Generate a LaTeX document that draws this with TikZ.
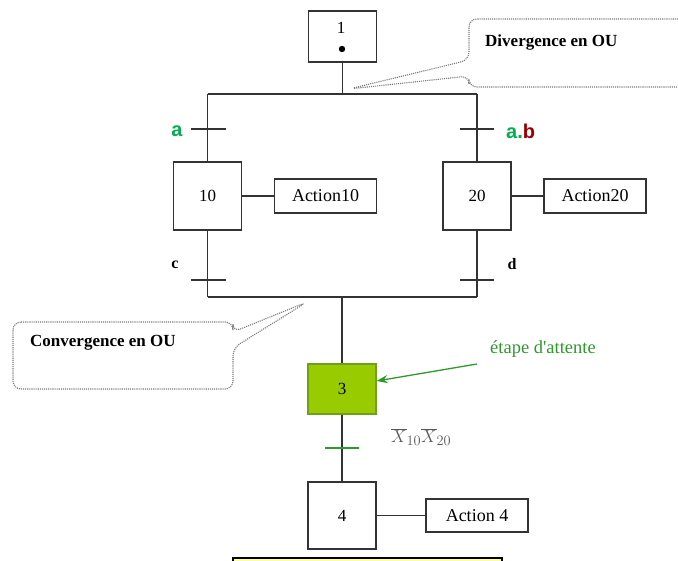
\documentclass[tikz,border=0pt]{standalone}
\usepackage{fontspec}
\setmainfont{Liberation Serif}
\newfontfamily\arialfont{Liberation Sans}
\usetikzlibrary{arrows.meta}
\definecolor{agreen}{HTML}{00B050}
\definecolor{bred}{HTML}{990000}
\definecolor{stepgreen}{HTML}{99CC00}
\definecolor{stepgreenborder}{HTML}{6FA01A}
\definecolor{txtgreen}{HTML}{2E9A2E}
\definecolor{notegray}{HTML}{7A7A7A}
\definecolor{lightyellow}{HTML}{FFFF99}
\tikzset{
  stepbox/.style={draw=black!80, line width=1.2pt, minimum width=68pt, inner sep=0pt, font=\fontsize{17}{17}\selectfont},
  actbox/.style={draw=black!80, line width=1.2pt, minimum width=102pt, minimum height=34pt, inner sep=0pt, font=\fontsize{18}{18}\selectfont},
  wire/.style={draw=black!80, line width=1.2pt},
  tick/.style={draw=black!80, line width=1.3pt},
  callout/.style={draw=notegray, densely dotted, line width=1.1pt, rounded corners=8pt},
  lbl/.style={inner sep=0pt, font=\fontsize{16}{16}\selectfont\bfseries},
}
\begin{document}
\begin{tikzpicture}[x=1pt,y=-1pt]
\clip (0,0) rectangle (678,561);
\fill[white] (0,0) rectangle (678,561);

% steps
\node[stepbox, minimum height=51pt] (s1) at (342.5,36.5) {};
\node[inner sep=0pt, font=\fontsize{17}{17}\selectfont] (n1) at (341,28) {1};
\fill[black] (342,49) circle (3.2pt);
\node[stepbox, minimum height=68pt] (s10) at (207.5,196) {10};
\node[stepbox, minimum height=68pt] (s20) at (477,196) {20};
\node[stepbox, minimum height=50pt, fill=stepgreen, draw=stepgreenborder] (s3) at (342,389) {3};
\node[stepbox, minimum height=67pt] (s4) at (342,515.5) {4};

% actions
\node[actbox] (a10) at (325.5,196) {Action10};
\node[actbox] (a20) at (595,196) {Action20};
\node[actbox, minimum height=33pt] (a4) at (477,515.5) {Action 4};

% coordinates
\coordinate (divL) at (207.5,94);
\coordinate (divR) at (477,94);
\coordinate (divM) at (342.5,94);
\coordinate (convL) at (207.5,297);
\coordinate (convR) at (477,297);
\coordinate (convM) at (342,297);
\coordinate (ta) at (207.5,129);
\coordinate (tab) at (477,129);
\coordinate (tc) at (207.5,280);
\coordinate (td) at (477,280);
\coordinate (t3) at (342,448);

% wires
\draw[wire] (s1.south) -- (divM);
\draw[wire] (divL) -- (divR);
\draw[wire] (divL) -- (s10.north);
\draw[wire] (divR) -- (s20.north);
\draw[wire] (s10.south) -- (convL);
\draw[wire] (s20.south) -- (convR);
\draw[wire] (convL) -- (convR);
\draw[wire] (convM) -- (s3.north);
\draw[wire] (s3.south) -- (s4.north);
\draw[wire] (s10.east) -- (a10.west);
\draw[wire] (s20.east) -- (a20.west);
\draw[wire] (s4.east) -- (a4.west);

% transitions
\draw[tick] ([xshift=-17pt]ta) -- ([xshift=18pt]ta);
\draw[tick] ([xshift=-17pt]tab) -- ([xshift=17pt]tab);
\draw[tick] ([xshift=-17pt]tc) -- ([xshift=18pt]tc);
\draw[tick] ([xshift=-17pt]td) -- ([xshift=17pt]td);
\draw[tick, draw=txtgreen] ([xshift=-17pt]t3) -- ([xshift=17pt]t3);

% transition labels
\node[inner sep=0pt, anchor=center, font=\arialfont\fontsize{20}{20}\selectfont\bfseries, text=agreen] (la) at (177,131) {a};
\node[inner sep=0pt, anchor=west, font=\arialfont\fontsize{20}{20}\selectfont\bfseries] (lab) at (506,131) {\textcolor{agreen}{a.}\textcolor{bred}{b}};
\node[lbl] (lc) at (175,265) {c};
\node[lbl] (ld) at (512,264) {d};
\node[inner sep=0pt, anchor=west, text=black!65, font=\fontsize{19}{19}\selectfont] (lx) at (391,437) {$\overline{X}_{10}\overline{X}_{20}$};

% waiting-step note
\node[inner sep=0pt, anchor=west, text=txtgreen, font=\fontsize{18.5}{18.5}\selectfont] (wait) at (490,349) {étape d\textquotesingle attente};
\coordinate (arrStart) at (477,364);
\draw[draw=txtgreen, line width=1.3pt, -{Stealth[length=11pt,width=8pt]}] (arrStart) -- (s3.east |- 0,381);

% callouts
\draw[callout] (720,19) -- (469,19) -- (469,60) -- (349,89) -- (469,76) -- (469,87) -- (720,87);
\node[inner sep=0pt, anchor=west, font=\fontsize{17}{17}\selectfont\bfseries] (divtext) at (485,42) {Divergence en OU};
\draw[callout] (13,322) -- (233,322) -- (233,332) -- (307,302) -- (233,348) -- (233,389) -- (13,389) -- cycle;
\node[inner sep=0pt, anchor=west, font=\fontsize{17}{17}\selectfont\bfseries] (convtext) at (30,343) {Convergence en OU};

% bottom yellow box (cut off)
\draw[fill=lightyellow, draw=black, line width=1.1pt] (233,558) rectangle (502,590);
\end{tikzpicture}
\end{document}
